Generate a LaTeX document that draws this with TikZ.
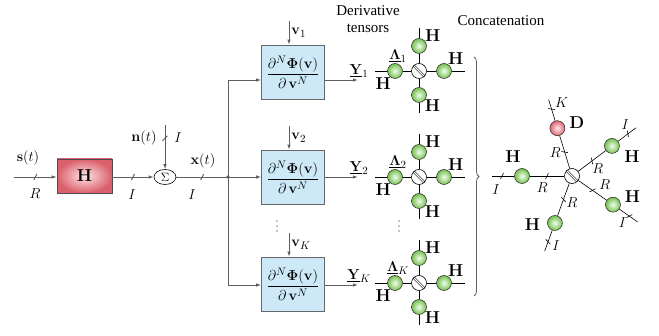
\documentclass[tikz,border=0pt]{standalone}
\usepackage{amsmath}
\usepackage[no-math]{fontspec}
\setmainfont{Liberation Serif}
\usetikzlibrary{arrows.meta, positioning, shapes.geometric, calc, decorations.pathreplacing, decorations.markings}
\definecolor{LineGray}{RGB}{95, 95, 95}
\definecolor{BoxBlue}{RGB}{205, 233, 248}
\definecolor{MixRed}{RGB}{218, 96, 108}
\definecolor{BallGreen}{RGB}{118, 190, 78}
\definecolor{BallRed}{RGB}{222, 100, 112}

\begin{document}
\begin{tikzpicture}[x=1pt, y=-1pt,
    % --- Styles ---
    % Style for the gray signal lines
    sig-line/.style={draw=LineGray, line width=0.9pt},
    sig-arrow/.style={sig-line, -{Latex[length=5pt, width=3.5pt]}},
    % Style for the mixing box
    mix-box/.style={rectangle, draw=black!70, line width=0.6pt,
        minimum width=55pt, minimum height=34pt,
        inner color=red!10, outer color=MixRed,
        font=\fontsize{17}{19}\selectfont},
    % Style for the derivative boxes
    deriv-box/.style={rectangle, draw=black!60, line width=0.6pt, fill=BoxBlue,
        minimum width=63pt, minimum height=54pt, inner sep=0pt,
        font=\fontsize{15}{17}\selectfont},
    % Style for the summing junction
    sum-node/.style={ellipse, draw=black, line width=0.6pt, fill=white,
        minimum width=22pt, minimum height=15pt, inner sep=0pt,
        font=\fontsize{12}{13}\selectfont},
    % Style for the tensor factors
    ball/.style={circle, draw=black!85, line width=0.5pt, minimum size=15pt,
        inner sep=0pt, inner color=green!6, outer color=BallGreen},
    red-ball/.style={ball, inner color=red!8, outer color=BallRed},
    % Style for the core tensor
    core/.style={circle, draw=black, line width=0.6pt, fill=white,
        minimum size=15pt, inner sep=0pt,
        path picture={\draw[line width=0.5pt, double, double distance=1.3pt]
            (path picture bounding box.north west) -- (path picture bounding box.south east);}},
    % Style for the labels
    math-label/.style={font=\fontsize{15}{17}\selectfont, inner sep=1pt},
    h-label/.style={font=\fontsize{16}{18}\selectfont, inner sep=1pt},
    note/.style={font=\fontsize{15}{17}\selectfont, align=center, inner sep=0pt},
    % Small slashes across a line
    slash at/.style={postaction={decorate, decoration={markings,
        mark=at position #1 with {\draw[-] (-1.5pt,-3pt) -- (1.5pt,3pt);}}}},
    bslash at/.style={postaction={decorate, decoration={markings,
        mark=at position #1 with {\draw[-] (-2.5pt,2.5pt) -- (2.5pt,-2.5pt);}}}}
]
\useasboundingbox (0,0) rectangle (659,336);

% --- Input, mixing and noise ---
\coordinate (s-in) at (14,177);
\node[mix-box] (mix) at (84.5,176) {$\mathbf{H}$};
\node[sum-node] (sum) at (165,177) {$\Sigma$};
\coordinate (n-in) at (165,125);
\coordinate (split) at (228,177);

\draw[sig-arrow, slash at=0.5] (s-in) -- (s-in -| mix.west);
\draw[sig-arrow, slash at=0.5] (mix.east |- sum) -- (sum);
\draw[sig-arrow, bslash at=0.3] (n-in) -- (sum);
\draw[sig-line, slash at=0.5] (sum) -- (split);
\fill[LineGray] (split) circle (1.8pt);

\node[math-label] at (28,158) {$\mathbf{s}(t)$};
\node[math-label] at (35,194) {$R$};
\node[math-label] at (132,195) {$I$};
\node[math-label] at (144,138) {$\mathbf{n}(t)$};
\node[math-label] at (178,138) {$I$};
\node[math-label] at (203,161) {$\mathbf{x}(t)$};
\node[math-label] at (192,195) {$I$};

% --- Branches to the derivative blocks ---
\coordinate (br1) at (228,80);
\coordinate (br3) at (228,285);
\draw[sig-line] (br1) -- (br3);

\foreach \i/\yb/\yc/\yt/\lab in {1/80/72/71/1, 2/177/177/177/2, 3/285/284/283/K} {
    \node[deriv-box] (d\i) at (293,\yc)
        {$\dfrac{\partial^N\boldsymbol{\Phi}\mathbf{(v)}}{\partial\,\mathbf{v}^N}$};
    \coordinate (b\i) at (228,\yb);
    \draw[sig-arrow] (b\i) -- (b\i -| d\i.west);
    % input v_k from above
    \coordinate (v\i) at (289,\yc-51);
    \draw[sig-arrow] (v\i) -- (v\i |- d\i.north)
        node[math-label, midway, right=1pt] {$\mathbf{v}_{\lab}$};
    % output Y_k
    \coordinate (y\i) at (358,\yb);
    \draw[sig-arrow] (d\i.east |- y\i) -- (y\i)
        node[math-label, at end, above=1pt, xshift=1pt] {$\underline{\mathbf{Y}}_{\lab}$};
    % --- Derivative tensor diagram ---
    \node[core] (t\i) at (419,\yt) {};
    \node[ball, label={[h-label, label distance=-2pt]-120:$\mathbf{H}$}] (t\i-w) at (395,\yt) {};
    \node[ball, label={[h-label, label distance=-2pt]60:$\mathbf{H}$}] (t\i-e) at (444,\yt) {};
    \node[ball, label={[h-label, label distance=-2pt]30:$\mathbf{H}$}] (t\i-n) at (419,\yt-25) {};
    \node[ball, label={[h-label, label distance=-2pt]-35:$\mathbf{H}$}] (t\i-s) at (419,\yt+24) {};
    \coordinate (t\i-we) at (375,\yt);
    \coordinate (t\i-ee) at (465,\yt);
    \coordinate (t\i-ne) at (419,\yt-43);
    \coordinate (t\i-se) at (419,\yt+42);
    \draw[line width=0.6pt] (t\i-we) -- (t\i-w) -- (t\i) -- (t\i-e) -- (t\i-ee);
    \draw[line width=0.6pt] (t\i-ne) -- (t\i-n) -- (t\i) -- (t\i-s) -- (t\i-se);
    \node[math-label] at (398,\yt-15) {$\underline{\mathbf{\Lambda}}_{\lab}$};
}
% vertical ellipsis dots
\foreach \x in {277, 399} {
    \foreach \y in {221, 226, 231} {
        \fill (\x,\y) circle (0.7pt);
    }
}

\node[note] (tensor-note) at (368,19) {Derivative\\tensors};
\node[note] (concat-note) at (501,21) {Concatenation};

% --- Concatenation brace ---
\coordinate (brace-top) at (474,57);
\coordinate (brace-bot) at (474,296);
\draw[LineGray, line width=0.8pt, decorate, decoration={brace, amplitude=5pt}]
    (brace-top) -- (brace-bot);

% --- Concatenated tensor ---
\node[core] (star) at (572,176) {};
\foreach \a/\j in {180/1, 107/2, 37/3, -35/4, -110/5} {
    \ifnum\j=2
        \node[red-ball] (sb\j) at ($(star)+(\a:50pt)$) {};
    \else
        \node[ball] (sb\j) at ($(star)+(\a:50pt)$) {};
    \fi
    \coordinate (se\j) at ($(star)+(\a:80pt)$);
    \draw[line width=0.6pt, slash at=0.5] (star) -- (sb\j);
    \draw[line width=0.6pt, slash at=0.55] (sb\j) -- (se\j);
}
\foreach \a/\dist/\txt in {202/32/R, 125/29/R, 17/27/R, -15/34/R, -90/27/R,
                           190/77/I, 98/74/K, 44/74/I, -43/69/I, -103/71/I} {
    \node[math-label] at ($(star)+(\a:\dist pt)$) {$\txt$};
}
\foreach \a/\dist/\txt in {162/62/H, 85/54/D, 18/63/H, -19/64/H, -129/63/H} {
    \node[h-label] at ($(star)+(\a:\dist pt)$) {$\mathbf{\txt}$};
}

\end{tikzpicture}
\end{document}
